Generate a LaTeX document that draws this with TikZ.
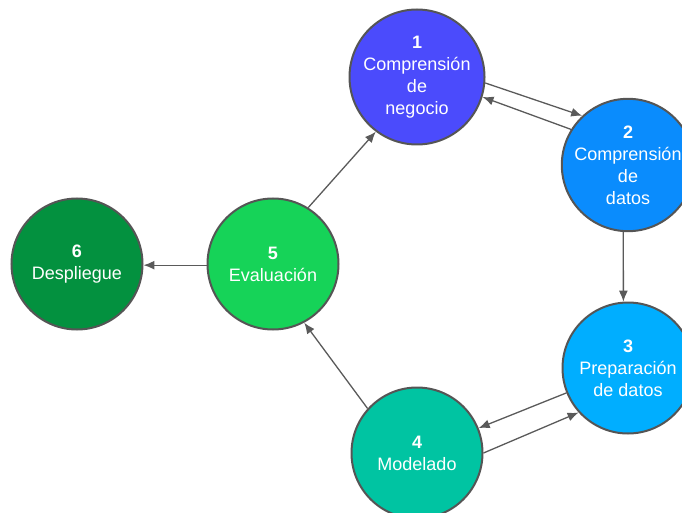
\documentclass[tikz,border=0pt]{standalone}
\usepackage{fontspec}
\setmainfont{Liberation Sans}
\usetikzlibrary{arrows.meta}

\definecolor{bordegris}{HTML}{555555}
\definecolor{flechagris}{HTML}{5A5A5A}
\definecolor{fase1}{HTML}{4B4BFC}
\definecolor{fase2}{HTML}{0A8CFD}
\definecolor{fase3}{HTML}{00AEFF}
\definecolor{fase4}{HTML}{00C4A2}
\definecolor{fase5}{HTML}{16D358}
\definecolor{fase6}{HTML}{03913F}

\begin{document}
\begin{tikzpicture}[x=1pt,y=-1pt,->,>={Latex[length=11pt,width=9pt]},line width=1.3pt,flechagris,
    fase/.style={circle,draw=bordegris,line width=2pt,minimum size=131pt,inner sep=0pt,
                 text=white,align=center,font=\fontsize{18}{22}\selectfont}]
			\useasboundingbox (0,0) rectangle (682,513);
			\node[fase, fill=fase1] (N1) at (417,77)  {\textbf{1}\\Comprensión\\de\\negocio};
			\node[fase, fill=fase2] (N2) at (628,165) {\textbf{2}\\Comprensión\\de\\datos};
			\node[fase, fill=fase3] (N3) at (628,368) {\textbf{3}\\Preparación\\de datos};
			\node[fase, fill=fase4] (N4) at (417,453) {\textbf{4}\\Modelado};
			\node[fase, fill=fase5] (N5) at (273,264) {\textbf{5}\\Evaluación};
			\node[fase, fill=fase6] (N6) at (77,264)  {\textbf{6}\\Despliegue};
			\path (N1.-5)   edge (N2.133);
			\path (N2.148)  edge (N1.-17);
			\path (N2.-94)  edge (N3.94);
			\path (N3.202)  edge (N4.22);
			\path (N4.0)    edge (N3.-138);
			\path (N4.138)  edge (N5.-62);
			\path (N5.58)   edge (N1.-127);
			\path (N5.181)  edge (N6.-1);
		\end{tikzpicture}
\end{document}
